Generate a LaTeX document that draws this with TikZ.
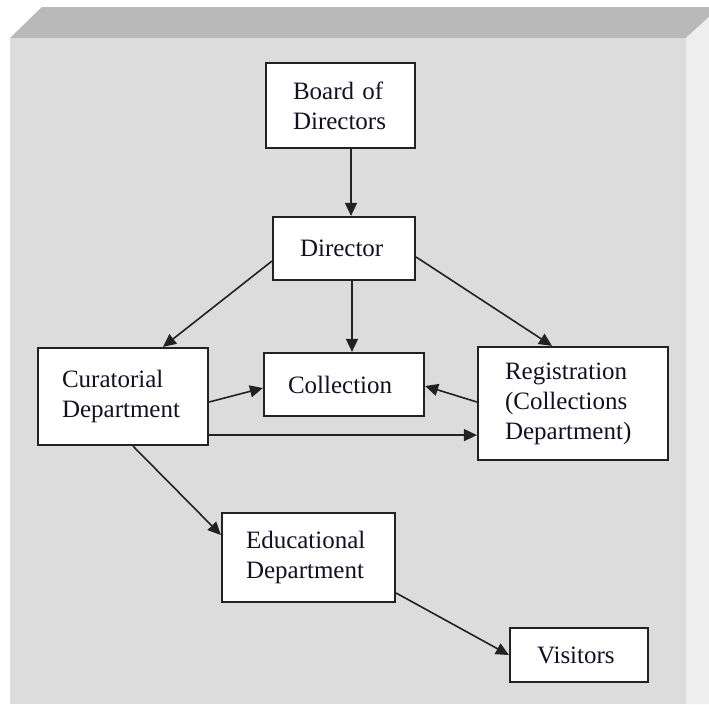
\documentclass[tikz,border=0pt]{standalone}
\usepackage{fontspec}
\setmainfont{Liberation Serif}
\usetikzlibrary{arrows.meta,calc}
\definecolor{frontface}{HTML}{DCDCDC}
\definecolor{topface}{HTML}{B9B9B9}
\definecolor{sideface}{HTML}{EEEEEE}
\definecolor{edge}{HTML}{222222}
\definecolor{ink}{HTML}{111122}
\tikzset{
  box/.style={draw=edge, line width=2.2pt, fill=white, rectangle, inner ysep=0pt,
    align=left, text=ink, font=\fontsize{25}{30}\selectfont},
  arr/.style={-{Triangle[length=13pt,width=12pt]}, line width=1.6pt, draw=edge}
}
\begin{document}
\begin{tikzpicture}[x=1pt,y=-1pt]
\useasboundingbox (0,0) rectangle (709,704);
\fill[white] (0,0) rectangle (709,704);
% raised panel behind the chart
\begin{scope}
  \clip (0,0) rectangle (709,704);
  \fill[topface] (10,38) -- (42,7) -- (720,7) -- (686,38) -- cycle;
  \fill[sideface] (686,38) -- (720,7) -- (720,704) -- (686,704) -- cycle;
  \fill[frontface] (10,38) rectangle (686,704);
\end{scope}

% boxes
\node[box, minimum width=149pt, minimum height=85pt, inner xsep=27pt, text width=95pt]
  (board) at (340.5,105.5) {Board of\\Directors};
\node[box, minimum width=142pt, minimum height=63pt, inner xsep=27pt, text width=88pt]
  (director) at (344,248.5) {Director};
\node[box, minimum width=170pt, minimum height=97pt, inner xsep=24pt, text width=122pt]
  (cur) at (123,396.5) {Curatorial\\Department};
\node[box, minimum width=160pt, minimum height=63pt, inner xsep=24pt, text width=112pt]
  (coll) at (344,384.5) {Collection};
\node[box, minimum width=190pt, minimum height=113pt, inner xsep=27pt, text width=136pt]
  (reg) at (573,403.5) {Registration\\(Collections\\Department)};
\node[box, minimum width=173pt, minimum height=89pt, inner xsep=24pt, text width=125pt]
  (edu) at (308.5,557.5) {Educational\\Department};
\node[box, minimum width=138pt, minimum height=54pt, inner xsep=27pt, text width=84pt]
  (vis) at (579,655) {Visitors};

% connectors
\draw[arr] ([xshift=10.5pt]board.south) -- ([xshift=10.5pt]board.south |- director.north);
\draw[arr] ([yshift=20pt]director.south west) -- ([xshift=40pt]cur.north);
\draw[arr] ([xshift=8pt]director.south) -- ([xshift=8pt]coll.north);
\draw[arr] ([yshift=-8.5pt]director.east) -- ([xshift=-21pt]reg.north);
\draw[arr] ([yshift=-5.5pt]cur.east) -- ([yshift=-3.5pt]coll.west);
\draw[arr] ([yshift=1.5pt]reg.west) -- ([yshift=-1.5pt]coll.east);
\draw[arr] ([yshift=11pt]cur.south east) -- ([yshift=11pt]cur.south east -| reg.west);
\draw[arr] ([xshift=10pt]cur.south) -- ([yshift=22.5pt]edu.west);
\draw[arr] ([yshift=-35.5pt]edu.east) -- (vis.west);
\end{tikzpicture}
\end{document}
